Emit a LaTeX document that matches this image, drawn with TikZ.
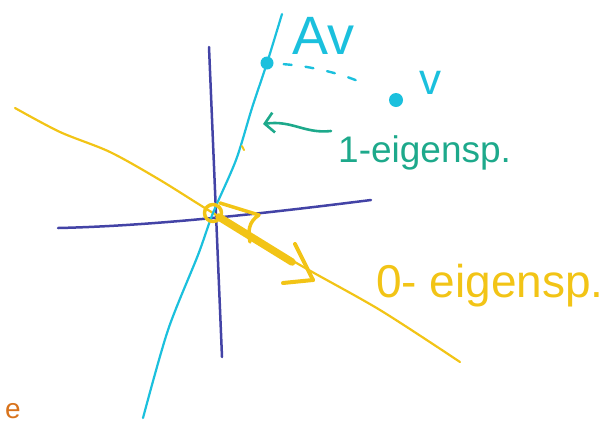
\documentclass[tikz,border=0pt]{standalone}
\usepackage{fontspec}
\setmainfont{Liberation Sans}
\usetikzlibrary{arrows.meta,calc,positioning}
\definecolor{cian}{HTML}{1BC0DD}
\definecolor{indigo}{HTML}{4343A6}
\definecolor{amarillo}{HTML}{F2C416}
\definecolor{verde}{HTML}{1DA98B}
\definecolor{naranja}{HTML}{D8731C}
\tikzset{
  eje/.style={draw=indigo,line width=2.5pt,line cap=round},
  recta1/.style={draw=cian,line width=2.2pt,line cap=round},
  recta0/.style={draw=amarillo,line width=2.2pt,line cap=round},
  punto/.style={circle,fill=cian,inner sep=0pt,minimum size=13pt},
  vector0/.style={draw=amarillo,line width=7.5pt,line cap=round},
  punta0/.style={draw=amarillo,line width=4pt,line cap=round},
  trazo/.style={draw=amarillo,line width=3.5pt,line cap=round,line join=round},
  flecha1/.style={draw=verde,line width=2.6pt,line cap=round,-{Straight Barb[length=9pt,width=20pt,line width=2.6pt]}},
  rotulo/.style={inner sep=0pt,anchor=base west},
}
\begin{document}
\begin{tikzpicture}[x=1pt,y=-1pt]
\useasboundingbox (0,0) rectangle (605,424);
% ejes
\coordinate (ejeyA) at (209,47);
\coordinate (ejeyB) at (222,357);
\coordinate (ejexA) at (58,228);
\coordinate (ejexB) at (371,200);
\draw[eje] (ejeyA) -- (ejeyB);
\draw[eje] (ejexA) .. controls (150,226) and (260,214) .. (ejexB);
% 0-eigenspace
\coordinate (o) at (213,213);
\draw[recta0] plot[smooth] coordinates {(15,108) (60,132) (110,152) (160,180) (o) (300,265) (380,310) (460,362)};
% 1-eigenspace
\draw[recta1] plot[smooth] coordinates {(143,418) (168,330) (198,255) (o) (236,160) (252,108) (267,63) (282,14)};
\draw[recta0,line width=2pt] (242,146) -- (244,150);
% vectores v y Av
\node[punto] (pAv) at (267,63) {};
\node[punto,minimum size=14pt] (pv) at (396,100) {};
\draw[draw=cian,line width=2.4pt,line cap=round,dash pattern=on 8pt off 14pt,shorten <=10pt,shorten >=26pt]
  (pAv) .. controls (310,66) and (345,74) .. (pv);
\node[rotulo,text=cian,font=\fontsize{54}{54}\selectfont] (tAv) at (292,54) {Av};
\node[rotulo,text=cian,font=\fontsize{44}{44}\selectfont] (tv) at (419,94) {v};
% 1-eigensp.
\coordinate (f1) at (331,131);
\coordinate (f2) at (263,124);
\draw[flecha1] (f1) .. controls (305,134) and (292,120) .. (f2);
\node[rotulo,text=verde,font=\fontsize{37}{37}\selectfont] (t1) at (338,162) {1-eigensp.};
% vector del 0-eigenspace
\coordinate (cola) at (219,217);
\coordinate (cuerpo) at (292,262);
\coordinate (tip) at (313,280);
\coordinate (barbaA) at (295,244);
\coordinate (barbaB) at (283,283);
\draw[vector0] (cola) -- (cuerpo);
\draw[punta0] (barbaA) -- (tip);
\draw[punta0] (barbaB) -- (tip);
\draw[trazo] (o) circle (8.5pt);
\draw[trazo] (220,203) -- (259,215) .. controls (248,222) and (248,232) .. (250,242);
\node[rotulo,text=amarillo,font=\fontsize{46}{46}\selectfont] (t0) at (376,297) {0- eigensp.};
% resto
\node[rotulo,text=naranja,font=\fontsize{28}{28}\selectfont] (tr) at (5,418) {e};
\end{tikzpicture}
\end{document}
